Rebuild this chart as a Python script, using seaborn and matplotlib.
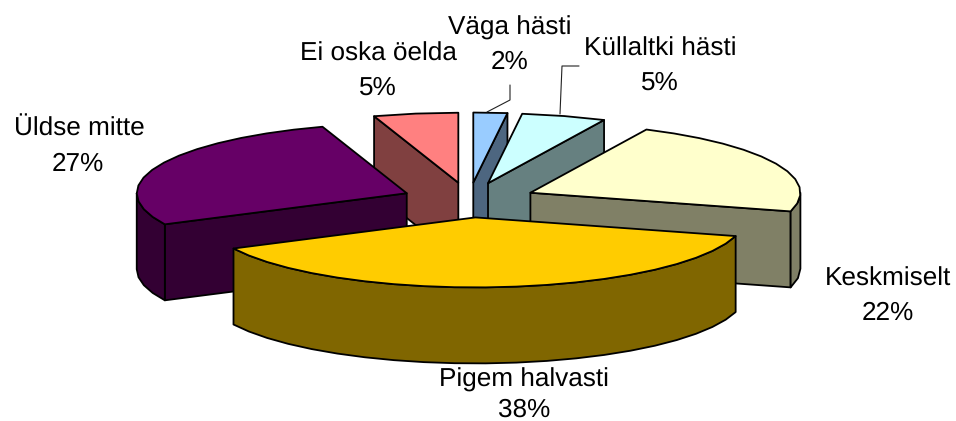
import numpy as np
import seaborn as sns
import matplotlib.pyplot as plt

categories = ['Väga hästi', 'Küllaltki hästi', 'Keskmiselt', 'Pigem halvasti', 'Üldse mitte', 'Ei oska öelda']
values = [2, 5, 22, 38, 27, 5]
slice_colors = ['#99CCFF', '#CCFFFF', '#FFFFCC', '#FFCC00', '#660066', '#FF8080']

# label centres in pixels
label_pos = [(510, 28), (660, 49), (888, 279), (524, 380), (79, 129), (378, 54)]
pct_pos = [(510, 62), (660, 83), (888, 313), (524, 410), (78, 164), (378, 88)]

CX, CY = 469, 200
RX, RY = 270, 70
EXPLODE = 0.25
DEPTH = 76
EDGE = 1.3


def project(theta, r, off):
    # theta in degrees, clockwise from 12 o'clock
    t = np.radians(theta)
    return off[0] + r * RX * np.sin(t), off[1] - r * RY * np.cos(t)


def arc(a, b, step=6.5):
    n = max(int(abs(b - a) / step), 1) + 1
    return np.linspace(a, b, n)


def draw_face(ax, x, y, color):
    ax.fill(x, y, facecolor=color, edgecolor='black', linewidth=EDGE, joinstyle='round')


def draw_slice(ax, start, end, color):
    mid = (start + end) / 2
    off = project(mid, EXPLODE, (CX, CY))
    dark = tuple(c * 0.5 for c in sns.color_palette([color])[0])

    # radial side faces, only those turned towards the viewer
    for theta, visible in ((start, np.sin(np.radians(start)) < -1e-6),
                           (end, np.sin(np.radians(end)) > 1e-6)):
        if visible:
            px, py = project(theta, 1, off)
            draw_face(ax, [off[0], px, px, off[0]], [off[1], py, py + DEPTH, off[1] + DEPTH], dark)

    # rim, front half only
    lo, hi = max(start, 90), min(end, 270)
    if lo < hi:
        t = arc(lo, hi)
        px, py = project(t, 1, off)
        draw_face(ax, np.r_[px, px[::-1]], np.r_[py, py[::-1] + DEPTH], dark)

    # top face
    t = arc(start, end)
    px, py = project(t, 1, off)
    draw_face(ax, np.r_[off[0], px], np.r_[off[1], py], color)


sns.set_style('white')
plt.rcParams['font.family'] = ['Liberation Sans', 'DejaVu Sans']
plt.rcParams['text.hinting'] = 'no_hinting'

fig, ax = plt.subplots(figsize=(9.56, 4.21), dpi=100)
ax.set_position([0, 0, 1, 1])
ax.set_xlim(0, 956)
ax.set_ylim(421, 0)
ax.axis('off')

edges = np.r_[0, np.cumsum(values)] / np.sum(values) * 360
spans = list(zip(edges[:-1], edges[1:]))

# paint from back to front
order = sorted(range(len(values)), key=lambda i: -np.cos(np.radians(sum(spans[i]) / 2)))
for i in order:
    draw_slice(ax, spans[i][0], spans[i][1], slice_colors[i])

# leader lines
ax.plot([487, 510, 510], [112, 100, 85], color='#222222', lw=0.8)
ax.plot([560, 562, 579], [114, 66, 66], color='#222222', lw=0.8)

for name, val, p, q in zip(categories, values, label_pos, pct_pos):
    ax.text(p[0], p[1], name, ha='center', va='center', fontsize=18.8, color='black')
    ax.text(q[0], q[1], f'{val}%', ha='center', va='center', fontsize=18.8, color='black')

fig.savefig('out.png', dpi=100)
